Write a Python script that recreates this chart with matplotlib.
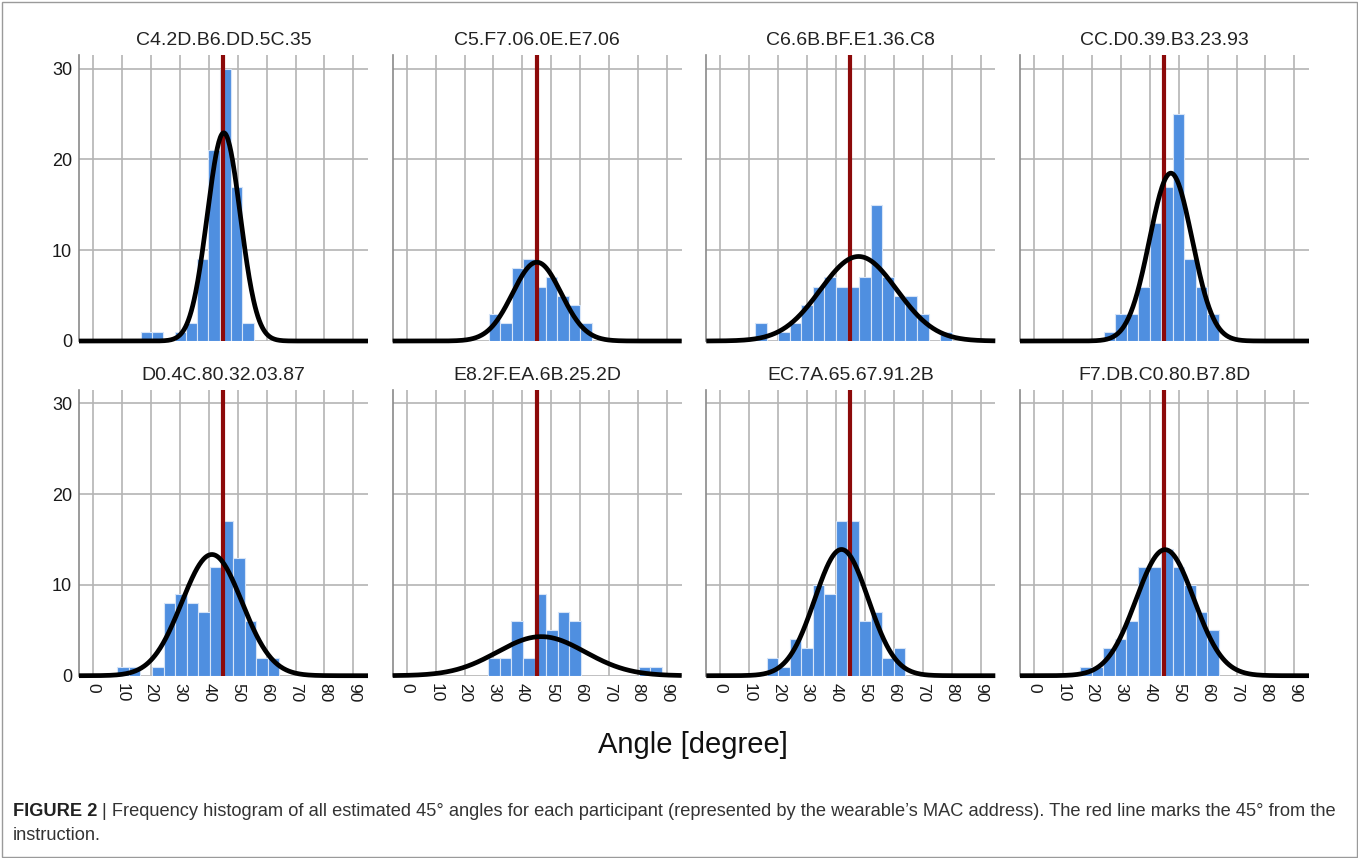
"""Frequency histograms of the estimated 45 degree angles, one panel per wearable."""
import numpy as np
import matplotlib
matplotlib.use('Agg')
import matplotlib.pyplot as plt
from matplotlib import font_manager
from matplotlib.patches import Rectangle

# panel titles (wearable MAC addresses)
titles = ['C4.2D.B6.DD.5C.35', 'C5.F7.06.0E.E7.06', 'C6.6B.BF.E1.36.C8', 'CC.D0.39.B3.23.93',
          'D0.4C.80.32.03.87', 'E8.2F.EA.6B.25.2D', 'EC.7A.65.67.91.2B', 'F7.DB.C0.80.B7.8D']

# histogram bins: left edge of first bin, bin width, counts
bin_start = [16.5, 28.3, 12.0, 24.2, 8.4, 28.2, 16.1, 15.9]
bin_width = [3.9, 3.97, 4.0, 3.96, 4.0, 4.0, 3.98, 4.0]
counts_c4 = [1, 1, 0, 1, 2, 9, 21, 30, 17, 2]
counts_c5 = [3, 2, 8, 9, 6, 7, 5, 4, 2]
counts_c6 = [2, 0, 1, 2, 4, 6, 7, 6, 6, 7, 15, 7, 5, 5, 3, 0, 1]
counts_cc = [1, 3, 3, 6, 13, 17, 25, 9, 6, 3]
counts_d0 = [1, 1, 0, 1, 8, 9, 8, 7, 12, 17, 13, 6, 2, 2]
counts_e8 = [2, 2, 6, 2, 9, 5, 7, 6, 0, 0, 0, 0, 0, 1, 1]
counts_ec = [2, 1, 4, 3, 10, 9, 17, 17, 6, 7, 2, 3]
counts_f7 = [1, 1, 3, 4, 6, 12, 12, 14, 12, 10, 7, 5]
all_counts = [counts_c4, counts_c5, counts_c6, counts_cc, counts_d0, counts_e8, counts_ec, counts_f7]

# fitted normal curve (mean, sd) per panel
fit_mean = [45.2, 45.0, 47.8, 47.3, 41.1, 46.5, 41.9, 45.3]
fit_sd = [5.7, 8.4, 13.2, 7.35, 10.4, 15.2, 9.25, 10.0]

target_angle = 45
x_ticks = list(range(0, 100, 10))
y_ticks = [0, 10, 20, 30]

BAR_COLOR = '#4f8fe0'
RED = '#8c0a0a'
GRID = '#b4b4b4'

names = {f.name for f in font_manager.fontManager.ttflist}
plt.rcParams['font.family'] = ['Liberation Sans', 'DejaVu Sans']
cap_font = 'Liberation Sans Narrow' if 'Liberation Sans Narrow' in names else 'Liberation Sans'

W, H = 1358, 858
fig = plt.figure(figsize=(W / 100, H / 100), dpi=100)

col_left = [79, 392.7, 706.3, 1020]
row_bottom = [341, 675.7]
ax_w, ax_h = 289, 286
xlim = (-4.84, 95.05)
ylim = (0, 31.5)

for i, title in enumerate(titles):
    r, c = divmod(i, 4)
    ax = fig.add_axes([col_left[c] / W, 1 - row_bottom[r] / H, ax_w / W, ax_h / H])
    counts = np.array(all_counts[i])
    edges = bin_start[i] + bin_width[i] * np.arange(len(counts))
    ax.bar(edges, counts, width=bin_width[i], align='edge', color=BAR_COLOR,
           edgecolor='#d6e4f7', linewidth=0.8, zorder=2)

    xs = np.linspace(xlim[0], xlim[1], 400)
    scale = counts.sum() * bin_width[i]
    ys = scale / (fit_sd[i] * np.sqrt(2 * np.pi)) * np.exp(-0.5 * ((xs - fit_mean[i]) / fit_sd[i]) ** 2)
    ax.axvline(target_angle, color=RED, lw=3.0, zorder=3)
    ax.plot(xs, ys, color='black', lw=3.4, zorder=4, solid_capstyle='butt', clip_on=False)

    ax.set_xlim(*xlim)
    ax.set_ylim(*ylim)
    ax.set_xticks(x_ticks)
    ax.set_yticks(y_ticks)
    ax.grid(True, color=GRID, lw=1.2, zorder=0)
    ax.set_axisbelow(True)
    for s in ['top', 'right', 'bottom']:
        ax.spines[s].set_visible(False)
    ax.spines['left'].set_color('#8a8a8a')
    ax.spines['left'].set_linewidth(1.2)
    ax.tick_params(length=0, pad=5, labelcolor='#1a1a1a')
    if c == 0:
        ax.set_yticklabels([str(v) for v in y_ticks], fontsize=13)
    else:
        ax.set_yticklabels([])
    if r == 1:
        ax.set_xticklabels([str(v) for v in x_ticks], fontsize=12.5, rotation=270, va='top', ha='center')
    else:
        ax.set_xticklabels([])
    ax.set_title(title, fontsize=14, pad=7, color='#222222')

fig.text(693 / W, 1 - 745 / H, 'Angle [degree]', fontsize=21, ha='center', va='center', color='#111111')

# caption
cap_rest = ('| Frequency histogram of all estimated 45° angles for each participant (represented by the '
            'wearable’s MAC address). The red line marks the 45° from the')
y1 = 1 - 812 / H
t1 = fig.text(13 / W, y1, 'FIGURE 2 ', fontsize=12, fontweight='bold', family=cap_font,
              ha='left', va='center', color='#222222')
t2 = fig.text(0, y1, cap_rest, fontsize=12, family=cap_font, ha='left', va='center', color='#333333')
t3 = fig.text(13 / W, 1 - 836 / H, 'instruction.', fontsize=12, family=cap_font,
              ha='left', va='center', color='#333333')

target_w = 1325
for _ in range(3):
    fig.canvas.draw()
    rend = fig.canvas.get_renderer()
    b1 = t1.get_window_extent(rend)
    t2.set_x(b1.x1 / W)
    fig.canvas.draw()
    b2 = t2.get_window_extent(rend)
    total = b2.x1 - b1.x0
    f = target_w / total
    for t in (t1, t2, t3):
        t.set_fontsize(t.get_fontsize() * f)
fig.canvas.draw()
rend = fig.canvas.get_renderer()
t2.set_x(t1.get_window_extent(rend).x1 / W)

fig.patches.append(Rectangle((1.5 / W, 1.5 / H), 1 - 3 / W, 1 - 3 / H, transform=fig.transFigure,
                             fill=False, edgecolor='#9a9a9a', lw=1.0))

fig.savefig('out.png', dpi=100)
plt.close(fig)
